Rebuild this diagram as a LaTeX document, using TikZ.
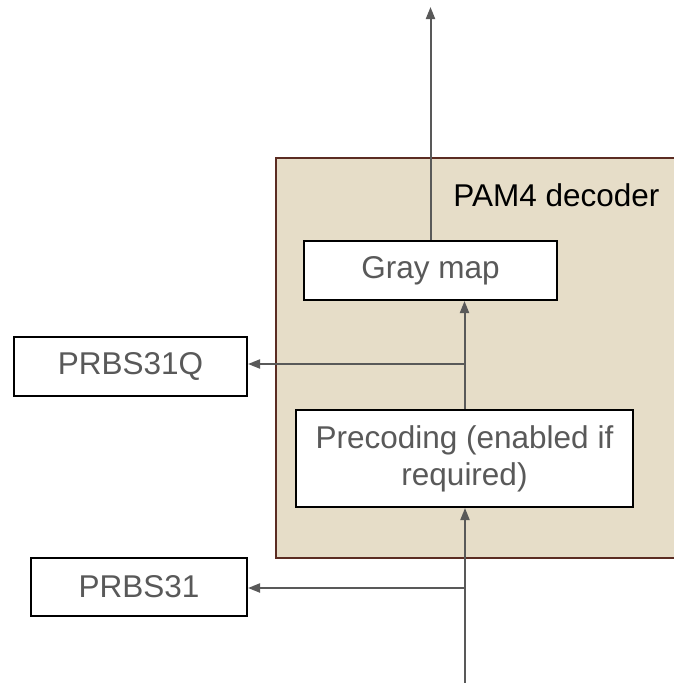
\documentclass[tikz,border=0pt]{standalone}
\usepackage{fontspec}
\setmainfont{Liberation Sans}
\usetikzlibrary{arrows.meta}
\definecolor{wire}{HTML}{595959}
\definecolor{decfill}{HTML}{E6DDC8}
\definecolor{decline}{HTML}{5B2C22}
\begin{document}
\begin{tikzpicture}[x=1pt,y=-1pt,
    block/.style={draw=black, line width=2pt, fill=white, inner sep=0pt,
        text=wire, font=\fontsize{31.5}{37}\selectfont},
    wireto/.style={draw=wire, line width=2pt, -{Triangle[length=12pt,width=9pt]}}]
    \useasboundingbox (0,0) rectangle (673,683);
    \node[draw=decline, line width=2pt, fill=decfill, minimum width=420pt,
        minimum height=400pt, anchor=north west] (decoder) at (275,157) {};
    \node[anchor=base, font=\fontsize{31.5}{37}\selectfont] (title) at (556.5,206) {PAM4 decoder};
    \node[block, minimum width=253pt, minimum height=59pt] (gray) at (430.5,270.5) {Gray map};
    \node[block, minimum width=337pt, minimum height=97pt, align=center] (pre) at (464.5,458.5)
        {Precoding (enabled if\\required)};
    \node[block, minimum width=233pt, minimum height=59pt] (prbsq) at (130.5,366.5) {PRBS31Q};
    \node[block, minimum width=216pt, minimum height=58pt] (prbs) at (139,587) {PRBS31};
    \coordinate (out) at (430.5,7);
    \coordinate (in) at (465,683);
    \coordinate (tapq) at (465,364);
    \coordinate (tap) at (465,588);
    \draw[wireto] (gray.north) -- (out);
    \draw[wireto] (pre.north) -- (pre.north |- gray.south);
    \draw[wireto] (tapq) -- (tapq -| prbsq.east);
    \draw[wireto] (in) -- (in |- pre.south);
    \draw[wireto] (tap) -- (tap -| prbs.east);
\end{tikzpicture}
\end{document}
